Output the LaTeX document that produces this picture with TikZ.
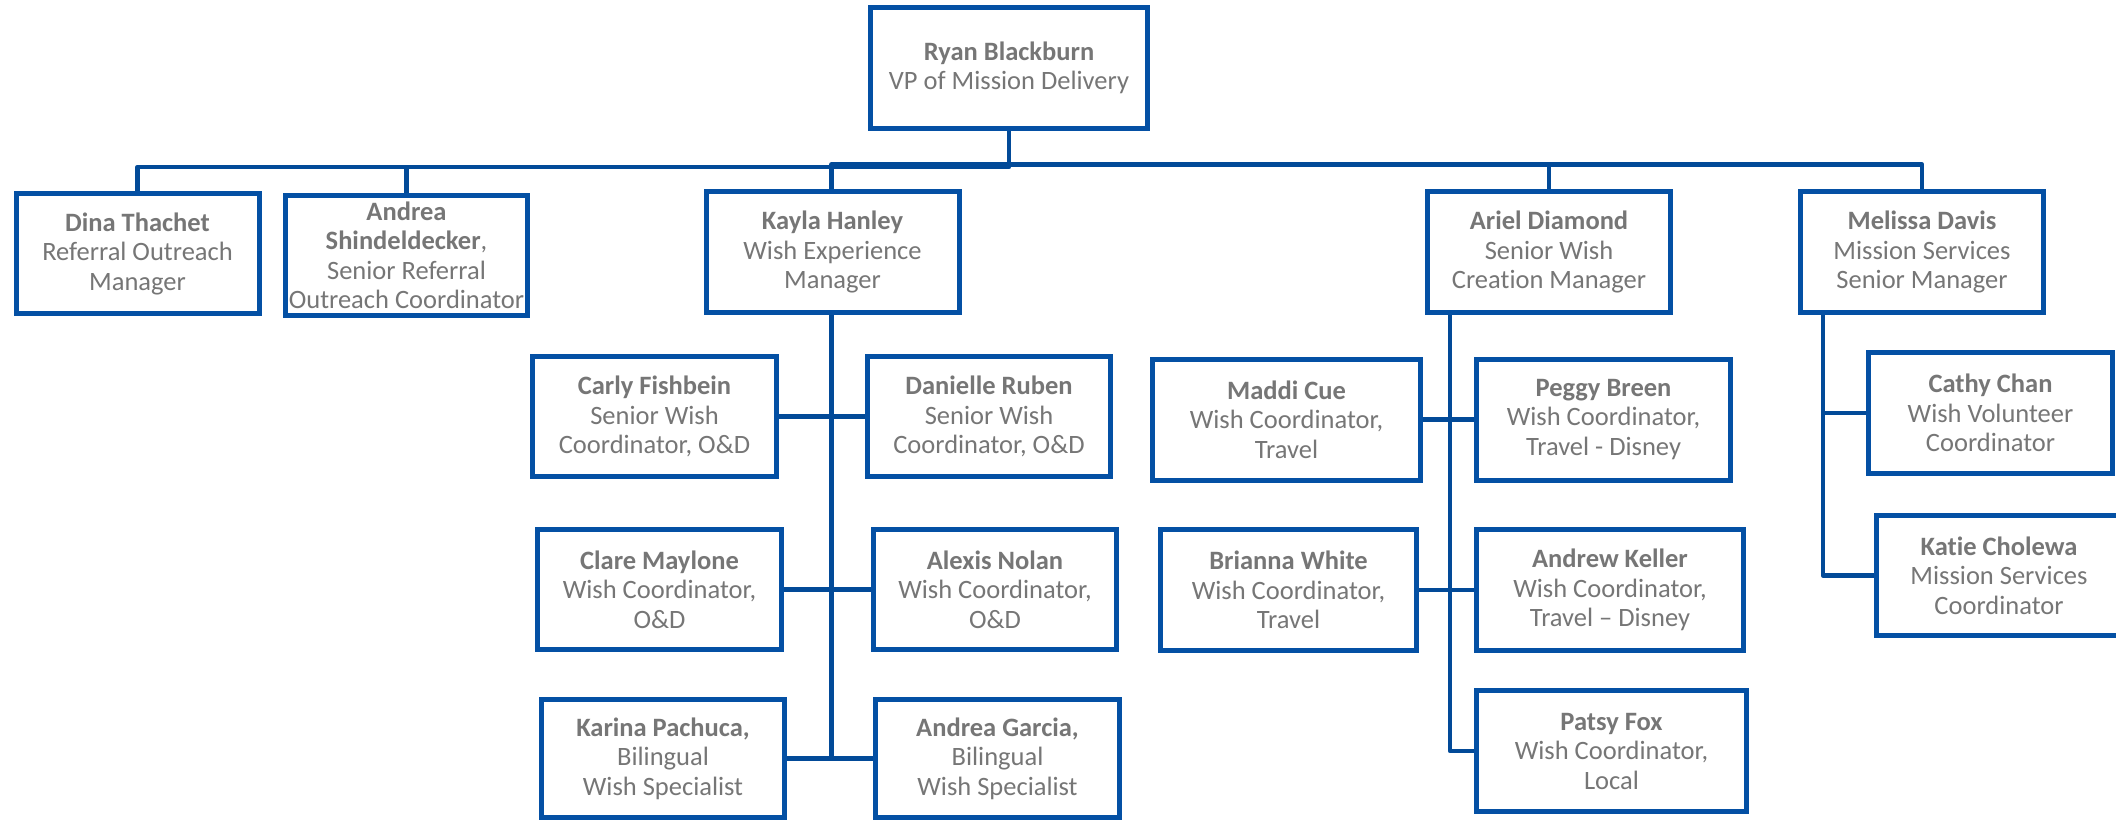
\documentclass[tikz,border=0pt]{standalone}
\usepackage{fontspec}
\setmainfont{Carlito}[Ligatures=NoCommon]
\definecolor{boxblue}{RGB}{4,80,164}
\definecolor{linkblue}{RGB}{2,74,152}
\definecolor{txtgray}{RGB}{118,118,118}
\tikzset{
  orgbox/.style={draw=boxblue, line width=5pt, fill=white, align=center,
    text=txtgray, font=\fontsize{26.5}{29.5}\selectfont, inner sep=0pt,
    minimum width=243pt, minimum height=120pt},
  conn/.style={draw=linkblue, line width=4.5pt, line join=round}
}
\begin{document}
\begin{tikzpicture}[x=1pt,y=-1pt]
\useasboundingbox (0,0) rectangle (2116,820);
\clip (0,0) rectangle (2116,820);
\fill[white] (0,0) rectangle (2116,820);

\coordinate (kcol) at (831.5,0);
\coordinate (acol) at (1450,0);
\coordinate (mcol) at (1823,0);

% connectors first (under boxes)
\draw[conn] (1009,131) -- (1009,167) -- (137.5,167) -- (137.5,191);
\draw[conn] (406.5,167) -- (406.5,193);
\draw[conn] (831.5,189) |- (1922,164.5) -- (1922,189);
\draw[conn] (1549,164.5) -- (1549,189);

% boxes
\node[orgbox, minimum width=277pt, minimum height=121pt] (ryan) at (1009,68) {\textbf{Ryan Blackburn}\\VP of Mission Delivery};
\node[orgbox] (dina) at (137.5,253.5) {\textbf{Dina Thachet}\\Referral Outreach\\Manager};
\node[orgbox, minimum width=242pt] (andreas) at (406.5,255.5) {\textbf{Andrea}\\\textbf{Shindeldecker}, \\Senior Referral\\Outreach Coordinator};
\node[orgbox, minimum width=253pt, minimum height=121pt] (kayla) at (832.5,252) {\textbf{Kayla Hanley}\\Wish Experience\\Manager};
\node[orgbox, minimum height=121pt] (ariel) at (1549,252) {\textbf{Ariel Diamond}\\Senior Wish\\Creation Manager};
\node[orgbox, minimum height=121pt] (melissa) at (1922,252) {\textbf{Melissa Davis}\\Mission Services\\Senior Manager};

\node[orgbox, minimum width=244pt] (carly) at (654.5,416.5) {\textbf{Carly Fishbein}\\Senior Wish\\Coordinator, O\&D};
\node[orgbox] (danielle) at (989,416.5) {\textbf{Danielle Ruben}\\Senior Wish\\Coordinator, O\&D};
\node[orgbox, minimum width=244pt] (clare) at (659.5,589.5) {\textbf{Clare Maylone}\\Wish Coordinator,\\O\&D};
\node[orgbox] (alexis) at (995,589.5) {\textbf{Alexis Nolan}\\Wish Coordinator,\\O\&D};
\node[orgbox, minimum height=118pt] (karina) at (663,758.5) {\textbf{Karina Pachuca,}\\Bilingual\\Wish Specialist};
\node[orgbox, minimum width=244pt, minimum height=118pt] (andreag) at (997.5,758.5) {\textbf{Andrea Garcia,}\\Bilingual\\Wish Specialist};

\node[orgbox, minimum width=268pt, minimum height=121pt] (maddi) at (1286.5,419.5) {\textbf{Maddi Cue}\\Wish Coordinator,\\Travel};
\node[orgbox, minimum width=254pt, minimum height=121pt] (peggy) at (1603.5,419.5) {\textbf{Peggy Breen}\\Wish Coordinator,\\Travel - Disney};
\node[orgbox, minimum width=256pt, minimum height=121pt] (brianna) at (1288.5,590) {\textbf{Brianna White}\\Wish Coordinator,\\Travel};
\node[orgbox, minimum width=267pt, minimum height=121pt] (andrew) at (1610,590) {\textbf{Andrew Keller}\\Wish Coordinator,\\Travel – Disney};
\node[orgbox, minimum width=270pt, minimum height=121pt] (patsy) at (1611.5,751) {\textbf{Patsy Fox}\\Wish Coordinator,\\Local};

\node[orgbox, minimum width=244pt, minimum height=121pt] (cathy) at (1990.5,413) {\textbf{Cathy Chan}\\Wish Volunteer\\Coordinator};
\node[orgbox, minimum width=245pt] (katie) at (1999,575.5) {\textbf{Katie Cholewa}\\Mission Services\\Coordinator};

% lower connectors
\draw[conn] (kayla.south -| kcol) -- (karina.east -| kcol);
\draw[conn] (carly.east) -- (danielle.west);
\draw[conn] (clare.east) -- (alexis.west);
\draw[conn] (karina.east) -- (andreag.west);

\draw[conn] (ariel.south -| acol) -- (patsy.west -| acol) -- (patsy.west);
\draw[conn] (maddi.east) -- (peggy.west);
\draw[conn] (brianna.east) -- (andrew.west);

\draw[conn] (melissa.south -| mcol) -- (katie.west -| mcol) -- (katie.west);
\draw[conn] (cathy.west -| mcol) -- (cathy.west);
\end{tikzpicture}
\end{document}
